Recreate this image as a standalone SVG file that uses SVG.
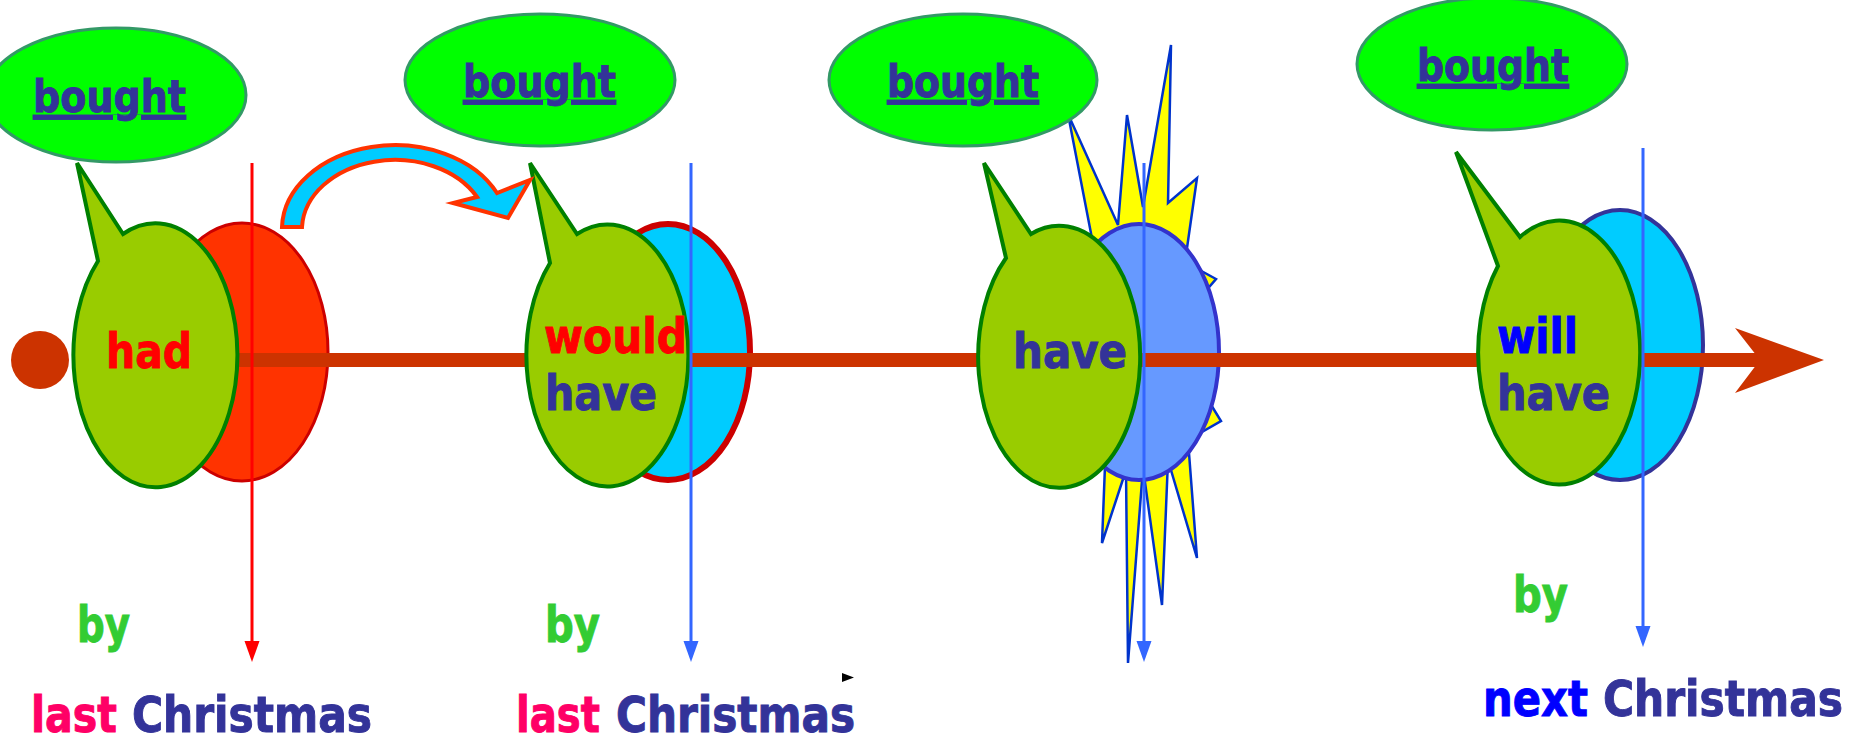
<svg xmlns="http://www.w3.org/2000/svg" width="1865" height="742" viewBox="0 0 1865 742">
<style>
text{font-family:"DejaVu Sans Condensed","DejaVu Sans","Liberation Sans",sans-serif;font-weight:bold;stroke-width:0.9px}
.cloud{fill:#00ff00;stroke:#339966;stroke-width:3}
.bt{font-size:45px;fill:#333399;stroke:#333399;text-decoration:underline}
.bub{fill:#99cc00;stroke:#008000;stroke-width:4}
.w{font-size:48px}
.red{fill:#ff0000;stroke:#ff0000}.navy{fill:#333399;stroke:#333399}.blue{fill:#0000ff;stroke:#0000ff}.grn{fill:#33cc33;stroke:#33cc33}.pink{fill:#ff0066;stroke:#ff0066}
.big{font-size:49px}
</style>
<defs>
<marker id="ahR" viewBox="0 -8 22 16" markerWidth="22" markerHeight="16" refX="0" refY="0" orient="auto" markerUnits="userSpaceOnUse"><path d="M0,-7.5 L21,0 L0,7.5 Z" fill="#ff0000"/></marker>
<marker id="ahB" viewBox="0 -8 22 16" markerWidth="22" markerHeight="16" refX="0" refY="0" orient="auto" markerUnits="userSpaceOnUse"><path d="M0,-7.5 L21,0 L0,7.5 Z" fill="#3366ff"/></marker>
</defs>
<rect width="1865" height="742" fill="#ffffff"/>

<g id="starburst">
<polygon points="1068,114 1118,225 1127,115 1143,207 1171,45 1168,203 1197,178 1185,262 1216,279 1198,300 1205,395 1221,421 1188,440 1197,558 1168,460 1162,605 1143,468 1128,663 1126,470 1102,543 1106,440 1100,280" fill="#ffff00" stroke="#0033cc" stroke-width="2.5" stroke-linejoin="miter"/>
</g>

<g id="bought1"><ellipse class="cloud" cx="116" cy="95" rx="130" ry="67"/><text class="bt" x="33" y="112" textLength="153" lengthAdjust="spacingAndGlyphs">bought</text></g>
<g id="bought2"><ellipse class="cloud" cx="540" cy="80" rx="135" ry="66"/><text class="bt" x="463" y="97" textLength="153" lengthAdjust="spacingAndGlyphs">bought</text></g>
<g id="bought3"><ellipse class="cloud" cx="963" cy="80" rx="134" ry="66"/><text class="bt" x="887" y="97" textLength="152" lengthAdjust="spacingAndGlyphs">bought</text></g>
<g id="bought4"><ellipse class="cloud" cx="1492" cy="64" rx="135" ry="66"/><text class="bt" x="1417" y="81" textLength="152" lengthAdjust="spacingAndGlyphs">bought</text></g>

<g id="disc1"><ellipse cx="242" cy="352" rx="86" ry="129" fill="#ff3300" stroke="#cc0000" stroke-width="3"/></g>
<g id="disc2"><ellipse cx="668" cy="352" rx="82" ry="128" fill="#00ccff" stroke="#cc0000" stroke-width="6"/></g>
<g id="disc3"><ellipse cx="1139" cy="352" rx="80" ry="128" fill="#6699ff" stroke="#3333cc" stroke-width="4"/></g>
<g id="disc4"><ellipse cx="1620" cy="345" rx="83" ry="135" fill="#00ccff" stroke="#333399" stroke-width="4"/></g>

<g id="connectors">
<rect x="100" y="353" width="1662" height="14" fill="#cc3300"/>
<polygon points="1735,328 1824,360 1735,393 1760,360" fill="#cc3300"/>
</g>

<g id="start"><circle cx="40" cy="360" r="29" fill="#cc3300"/></g>

<g id="bubble1">
<path class="bub" d="M98,261 L77,163 L123,234 A82,132 0 1 1 98,261 Z"/>
<text class="w red" x="106" y="368" textLength="86" lengthAdjust="spacingAndGlyphs">had</text>
</g>
<g id="bubble2">
<path class="bub" d="M550,263 L530,163 L577,234 A81,131 0 1 1 550,263 Z"/>
<text class="w red" x="544" y="353" textLength="143" lengthAdjust="spacingAndGlyphs">would</text>
<text class="w navy" x="545" y="410" textLength="112" lengthAdjust="spacingAndGlyphs">have</text>
</g>
<g id="bubble3">
<path class="bub" d="M1006,258 L984,163 L1031,234 A81,131 0 1 1 1006,258 Z"/>
<text class="w navy" x="1013" y="368" textLength="114" lengthAdjust="spacingAndGlyphs">have</text>
</g>
<g id="bubble4">
<path class="bub" d="M1498,266 L1456,152 L1520,237 A81,132 0 1 1 1498,266 Z"/>
<text class="w blue" x="1497" y="353" textLength="81" lengthAdjust="spacingAndGlyphs">will</text>
<text class="w navy" x="1497" y="410" textLength="113" lengthAdjust="spacingAndGlyphs">have</text>
</g>

<g id="markers-lines">
<line x1="252" y1="163" x2="252" y2="641" stroke="#ff0000" stroke-width="3" marker-end="url(#ahR)"/>
<line x1="691" y1="163" x2="691" y2="641" stroke="#3366ff" stroke-width="3" marker-end="url(#ahB)"/>
<line x1="1144" y1="163" x2="1144" y2="641" stroke="#3366ff" stroke-width="3" marker-end="url(#ahB)"/>
<line x1="1643" y1="148" x2="1643" y2="626" stroke="#3366ff" stroke-width="3" marker-end="url(#ahB)"/>
<path d="M282,227 A113,84 0 0 1 497,193 L530,180 L508,218 L453,203 L477,197 A93,70 0 0 0 302,227 Z" fill="#00ccff" stroke="#ff3300" stroke-width="4" stroke-linejoin="miter"/>
</g>

<g id="label1">
<text class="big grn" x="77" y="642" textLength="53" lengthAdjust="spacingAndGlyphs">by</text>
<text class="big"><tspan class="pink" x="31" y="732" textLength="86" lengthAdjust="spacingAndGlyphs">last</tspan><tspan class="navy" x="132" y="732" textLength="240" lengthAdjust="spacingAndGlyphs">Christmas</tspan></text>
</g>
<g id="label2">
<text class="big grn" x="545" y="642" textLength="55" lengthAdjust="spacingAndGlyphs">by</text>
<text class="big"><tspan class="pink" x="516" y="732" textLength="84" lengthAdjust="spacingAndGlyphs">last</tspan><tspan class="navy" x="616" y="732" textLength="239" lengthAdjust="spacingAndGlyphs">Christmas</tspan></text>
<polygon points="842,673 854,677.5 842,682" fill="#000000"/>
</g>
<g id="label3">
<text class="big grn" x="1513" y="612" textLength="55" lengthAdjust="spacingAndGlyphs">by</text>
<text class="big"><tspan class="blue" x="1483" y="716" textLength="105" lengthAdjust="spacingAndGlyphs">next</tspan><tspan class="navy" x="1603" y="716" textLength="240" lengthAdjust="spacingAndGlyphs">Christmas</tspan></text>
</g>
</svg>
